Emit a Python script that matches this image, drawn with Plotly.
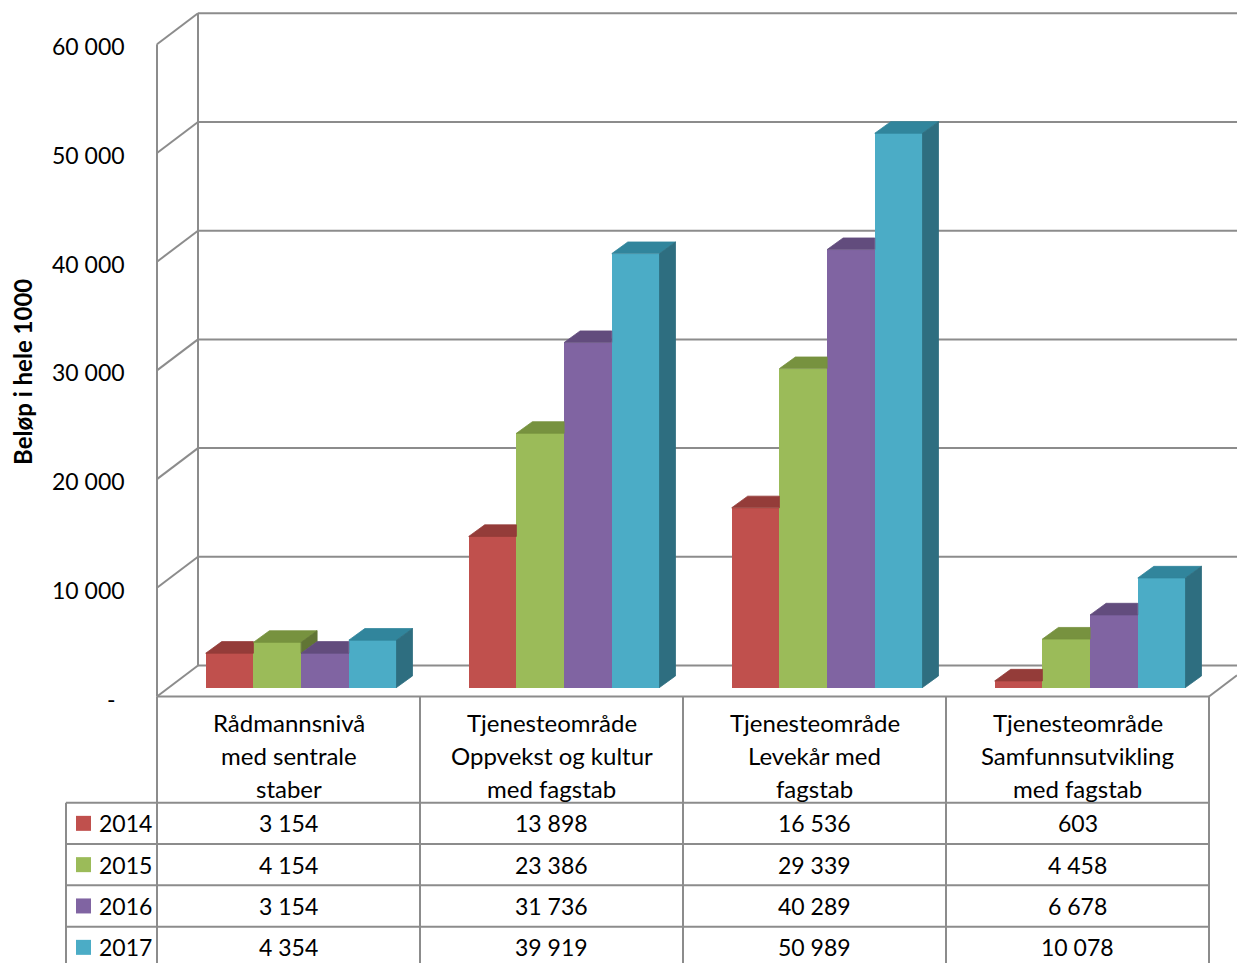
import plotly.graph_objects as go

# ---------------- data ----------------
categories = [
    ["Rådmannsnivå", "med sentrale", "staber"],
    ["Tjenesteområde", "Oppvekst og kultur", "med fagstab"],
    ["Tjenesteområde", "Levekår med", "fagstab"],
    ["Tjenesteområde", "Samfunnsutvikling", "med fagstab"],
]
years = ["2014", "2015", "2016", "2017"]
v2014 = [3154, 13898, 16536, 603]
v2015 = [4154, 23386, 29339, 4458]
v2016 = [3154, 31736, 40289, 6678]
v2017 = [4354, 39919, 50989, 10078]
series = [v2014, v2015, v2016, v2017]
tick_values = [0, 10000, 20000, 30000, 40000, 50000, 60000]
tick_labels = ["-", "10 000", "20 000", "30 000", "40 000", "50 000", "60 000"]
y_title = "Beløp i hele 1000"

# ---------------- styles ----------------
front_colors = ["#C0504D", "#9BBB59", "#8064A2", "#4BACC6"]
top_colors = ["#943C39", "#77923F", "#624C7D", "#31859C"]
side_colors = ["#77302E", "#617535", "#4F3D66", "#2E6E80"]
GRID = "#8C8C8C"
FONT = "Lato"
HEAD_SIZE = 24
NUM_SIZE = 23

W, H = 1237, 963
COL_LEFT_PX = 157.0
COL_W_PX = 263.0
K = 0.01087            # pixels per value unit
BASE_PX = 687.5        # pixel row of value 0 (bar base)


def px_x(px):
    return (px - COL_LEFT_PX) / COL_W_PX


def px_dy(dpx):
    return dpx / K


def paper_y(py):
    return 1 - py / H


X_RANGE = [px_x(0), px_x(W)]
Y_RANGE = [(BASE_PX - H) / K, BASE_PX / K]

# 3D geometry
WALL_DX = px_x(COL_LEFT_PX + 41)       # depth of the walls in x units
WALL_DY = px_dy(31)                    # depth of the walls in value units
FLOOR_FRONT = -px_dy(9)                # value of front floor edge
BAR_W = 47.7 / COL_W_PX
GROUP_SHIFT = 12.6 / COL_W_PX
BAR_DX = 16 / COL_W_PX
BAR_DY = px_dy(11.6)
N = len(categories)

fig = go.Figure()

# front faces (bars)
centers = []
for j, vals in enumerate(series):
    xs = [i + 0.5 + GROUP_SHIFT + (j - 1.5) * BAR_W for i in range(N)]
    centers.append(xs)
    fig.add_trace(go.Bar(
        x=xs, y=vals, width=BAR_W, base=0, name=years[j],
        marker=dict(color=front_colors[j], line=dict(width=0)),
        showlegend=False, hoverinfo="skip",
    ))

# top and side faces
for j, vals in enumerate(series):
    tx, ty, sx, sy = [], [], [], []
    for i in range(N):
        v = vals[i]
        x0 = centers[j][i] - BAR_W / 2
        x1 = centers[j][i] + BAR_W / 2
        nxt = series[j + 1][i] if j < len(series) - 1 else None
        # top face
        if nxt is not None and nxt > v:
            tx += [x0, x1, x1, x0 + BAR_DX, x0, None]
            ty += [v, v, v + BAR_DY, v + BAR_DY, v, None]
        else:
            tx += [x0, x1, x1 + BAR_DX, x0 + BAR_DX, x0, None]
            ty += [v, v, v + BAR_DY, v + BAR_DY, v, None]
        # side face (visible part)
        low = 0 if nxt is None else nxt
        if low < v:
            sx += [x1, x1, x1 + BAR_DX, x1 + BAR_DX, x1, None]
            sy += [low, v, v + BAR_DY, low + BAR_DY, low, None]
    fig.add_trace(go.Scatter(
        x=tx, y=ty, mode="lines", fill="toself", fillcolor=top_colors[j],
        line=dict(width=0.8, color=top_colors[j]), showlegend=False, hoverinfo="skip"))
    if sx:
        fig.add_trace(go.Scatter(
            x=sx, y=sy, mode="lines", fill="toself", fillcolor=side_colors[j],
            line=dict(width=0.8, color=side_colors[j]), showlegend=False, hoverinfo="skip"))

shapes = []
line = dict(color=GRID, width=2)
# walls: gridlines
for t in tick_values:
    yf = t + FLOOR_FRONT
    yb = yf + WALL_DY
    shapes.append(dict(type="line", xref="x", yref="y", x0=0, y0=yf, x1=WALL_DX, y1=yb,
                       line=line, layer="below"))
    shapes.append(dict(type="line", xref="x", yref="y", x0=WALL_DX, y0=yb, x1=X_RANGE[1], y1=yb,
                       line=line, layer="below"))
top_t = tick_values[-1]
shapes.append(dict(type="line", xref="x", yref="y", x0=0, y0=FLOOR_FRONT, x1=0,
                   y1=top_t + FLOOR_FRONT, line=line, layer="below"))
shapes.append(dict(type="line", xref="x", yref="y", x0=WALL_DX, y0=FLOOR_FRONT + WALL_DY, x1=WALL_DX,
                   y1=top_t + FLOOR_FRONT + WALL_DY, line=line, layer="below"))
# floor front edge and right edge
shapes.append(dict(type="line", xref="x", yref="y", x0=0, y0=FLOOR_FRONT, x1=N, y1=FLOOR_FRONT,
                   line=line, layer="below"))
frac = (X_RANGE[1] - N) / WALL_DX
shapes.append(dict(type="line", xref="x", yref="y", x0=N, y0=FLOOR_FRONT, x1=X_RANGE[1],
                   y1=FLOOR_FRONT + WALL_DY * frac, line=line, layer="below"))

# ---------------- data table ----------------
floor_py = BASE_PX + 9
row_tops = [802.7, 844.0, 885.3, 926.7]
row_h = 41.3
left_x = px_x(66)
for i in range(N + 1):
    shapes.append(dict(type="line", xref="x", yref="paper", x0=i, x1=i,
                       y0=paper_y(floor_py), y1=0, line=line))
shapes.append(dict(type="line", xref="x", yref="paper", x0=left_x, x1=left_x,
                   y0=paper_y(row_tops[0]), y1=0, line=line))
for rt in row_tops:
    shapes.append(dict(type="line", xref="x", yref="paper", x0=left_x, x1=N,
                       y0=paper_y(rt), y1=paper_y(rt), line=line))

annotations = []
hf = dict(family=FONT, size=HEAD_SIZE, color="#000000")
nf = dict(family=FONT, size=NUM_SIZE, color="#000000")
header_lines_py = [722, 755, 788]
for i, lines in enumerate(categories):
    for ln, py in zip(lines, header_lines_py):
        annotations.append(dict(xref="x", yref="paper", x=i + 0.5, y=paper_y(py), text=ln,
                                showarrow=False, font=hf, xanchor="center", yanchor="middle"))
for j, vals in enumerate(series):
    cy = row_tops[j] + row_h / 2
    for i, v in enumerate(vals):
        annotations.append(dict(xref="x", yref="paper", x=i + 0.5, y=paper_y(cy),
                                text=f"{v:,}".replace(",", " "), showarrow=False, font=nf,
                                xanchor="center", yanchor="middle"))
    annotations.append(dict(xref="x", yref="paper", x=px_x(97), y=paper_y(cy), text=years[j],
                            showarrow=False, font=nf, xanchor="left", yanchor="middle"))
    shapes.append(dict(type="rect", xref="x", yref="paper", x0=px_x(76), x1=px_x(91),
                       y0=paper_y(cy - 7.5), y1=paper_y(cy + 7.5),
                       fillcolor=front_colors[j], line=dict(width=0)))

# y tick labels
for t, lab in zip(tick_values, tick_labels):
    if t == 0:
        annotations.append(dict(xref="x", yref="y", x=px_x(111), y=t + FLOOR_FRONT - px_dy(2),
                                text=lab, showarrow=False, font=nf,
                                xanchor="center", yanchor="middle"))
    else:
        annotations.append(dict(xref="x", yref="y", x=px_x(127), y=t + FLOOR_FRONT - px_dy(2),
                                text=lab, showarrow=False, font=nf,
                                xanchor="right", yanchor="middle"))

annotations.append(dict(xref="paper", yref="paper", x=22 / W, y=paper_y(372), text=f"<b>{y_title}</b>",
                        textangle=-90, showarrow=False, font=dict(family=FONT, size=24, color="#000"),
                        xanchor="center", yanchor="middle"))

fig.update_layout(
    width=W, height=H,
    margin=dict(l=0, r=0, t=0, b=0),
    paper_bgcolor="white", plot_bgcolor="white",
    barmode="overlay", bargap=0,
    xaxis=dict(range=X_RANGE, visible=False, fixedrange=True),
    yaxis=dict(range=Y_RANGE, visible=False, fixedrange=True),
    shapes=shapes, annotations=annotations,
    showlegend=False,
)

fig.write_html(
    "out.html",
    config={"displayModeBar": False},
    post_script="document.body.style.margin='0px';document.body.style.padding='0px';"
                "document.body.style.overflow='hidden';",
)
